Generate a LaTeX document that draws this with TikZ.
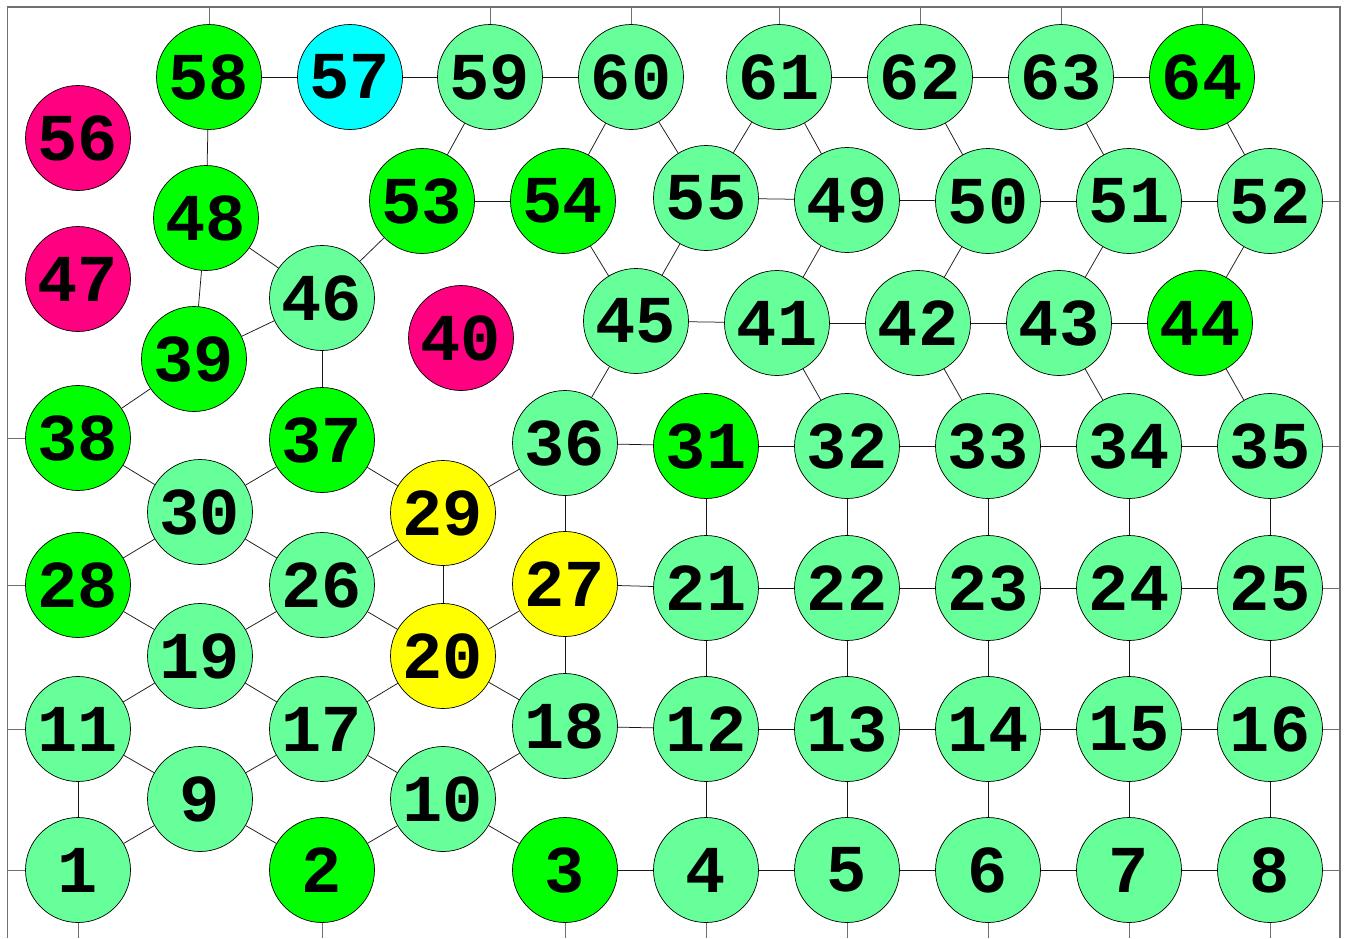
\documentclass[tikz,border=0pt]{standalone}
\usepackage{fontspec}
\newfontfamily\nodefont{Liberation Mono}
\newcommand\lbl[1]{\raisebox{-2pt}{#1}}
\definecolor{lgreen}{HTML}{66FF99}
\definecolor{bgreen}{HTML}{00FF00}
\definecolor{magen}{HTML}{FF0080}
\definecolor{cyanc}{HTML}{00FFFF}
\definecolor{yell}{HTML}{FFFF00}
\definecolor{bordergray}{HTML}{707070}
\tikzset{
  vtx/.style={circle,draw=black,line width=0.7pt,minimum size=105pt,inner sep=0pt,
    font=\nodefont\bfseries\fontsize{67}{67}\selectfont},
  lg/.style={vtx,fill=lgreen},
  bg/.style={vtx,fill=bgreen},
  mg/.style={vtx,fill=magen},
  cy/.style={vtx,fill=cyanc},
  ye/.style={vtx,fill=yell},
  edge/.style={draw=black!90,line width=0.75pt},
  wrap/.style={draw=bordergray,line width=0.8pt},
  frame/.style={draw=bordergray,line width=1.2pt}
}
\begin{document}
\begin{tikzpicture}[x=1pt,y=-1pt]
\useasboundingbox (0,0) rectangle (1347,938);
\draw[frame] (7.5,938) -- (7.5,7) -- (1340,7) -- (1340,938);
% nodes
\node[lg] (n1) at (78,870) {\lbl{1}};
\node[bg] (n2) at (322,870) {\lbl{2}};
\node[bg] (n3) at (565,870) {\lbl{3}};
\node[lg] (n4) at (706,870) {\lbl{4}};
\node[lg] (n5) at (847,870) {\lbl{5}};
\node[lg] (n6) at (988,870) {\lbl{6}};
\node[lg] (n7) at (1129,870) {\lbl{7}};
\node[lg] (n8) at (1270,870) {\lbl{8}};
\node[lg] (n9) at (200,799) {\lbl{9}};
\node[lg] (n10) at (443,799) {\lbl{10}};
\node[lg] (n11) at (78,729) {\lbl{11}};
\node[lg] (n17) at (322,729) {\lbl{17}};
\node[lg] (n18) at (565,726) {\lbl{18}};
\node[lg] (n12) at (706,729) {\lbl{12}};
\node[lg] (n13) at (847,729) {\lbl{13}};
\node[lg] (n14) at (988,729) {\lbl{14}};
\node[lg] (n15) at (1129,729) {\lbl{15}};
\node[lg] (n16) at (1270,729) {\lbl{16}};
\node[lg] (n19) at (200,656) {\lbl{19}};
\node[ye] (n20) at (443,656) {\lbl{20}};
\node[bg] (n28) at (78,585) {\lbl{28}};
\node[lg] (n26) at (322,585) {\lbl{26}};
\node[ye] (n27) at (565,584) {\lbl{27}};
\node[lg] (n21) at (706,588) {\lbl{21}};
\node[lg] (n22) at (847,588) {\lbl{22}};
\node[lg] (n23) at (988,588) {\lbl{23}};
\node[lg] (n24) at (1129,588) {\lbl{24}};
\node[lg] (n25) at (1270,588) {\lbl{25}};
\node[lg] (n30) at (200,512) {\lbl{30}};
\node[ye] (n29) at (443,513) {\lbl{29}};
\node[bg] (n38) at (78,438) {\lbl{38}};
\node[bg] (n37) at (322,440) {\lbl{37}};
\node[lg] (n36) at (565,443) {\lbl{36}};
\node[bg] (n31) at (706,446) {\lbl{31}};
\node[lg] (n32) at (847,446) {\lbl{32}};
\node[lg] (n33) at (988,446) {\lbl{33}};
\node[lg] (n34) at (1129,446) {\lbl{34}};
\node[lg] (n35) at (1270,446) {\lbl{35}};
\node[bg] (n39) at (194,359) {\lbl{39}};
\node[mg] (n40) at (461,338) {\lbl{40}};
\node[lg] (n46) at (322,298) {\lbl{46}};
\node[lg] (n45) at (636,321) {\lbl{45}};
\node[lg] (n41) at (777,323) {\lbl{41}};
\node[lg] (n42) at (918,323) {\lbl{42}};
\node[lg] (n43) at (1059,323) {\lbl{43}};
\node[bg] (n44) at (1200,323) {\lbl{44}};
\node[mg] (n47) at (78,279) {\lbl{47}};
\node[bg] (n48) at (206,218) {\lbl{48}};
\node[bg] (n53) at (422,201) {\lbl{53}};
\node[bg] (n54) at (563,201) {\lbl{54}};
\node[lg] (n55) at (706,198) {\lbl{55}};
\node[lg] (n49) at (847,200) {\lbl{49}};
\node[lg] (n50) at (988,201) {\lbl{50}};
\node[lg] (n51) at (1129,201) {\lbl{51}};
\node[lg] (n52) at (1270,201) {\lbl{52}};
\node[mg] (n56) at (78,138) {\lbl{56}};
\node[bg] (n58) at (209,77) {\lbl{58}};
\node[cy] (n57) at (350,77) {\lbl{57}};
\node[lg] (n59) at (490,77) {\lbl{59}};
\node[lg] (n60) at (631,77) {\lbl{60}};
\node[lg] (n61) at (779,77) {\lbl{61}};
\node[lg] (n62) at (920,77) {\lbl{62}};
\node[lg] (n63) at (1061,77) {\lbl{63}};
\node[bg] (n64) at (1202,77) {\lbl{64}};
% border coordinates
\coordinate (t58) at (209,7);
\coordinate (t59) at (490,7);
\coordinate (t60) at (631,7);
\coordinate (t61) at (779,7);
\coordinate (t62) at (920,7);
\coordinate (t63) at (1061,7);
\coordinate (t64) at (1202,7);
\coordinate (l38) at (7.5,438);
\coordinate (l28) at (7.5,585);
\coordinate (l11) at (7.5,729);
\coordinate (l1) at (7.5,870);
\coordinate (r52) at (1340,201);
\coordinate (r35) at (1340,446);
\coordinate (r25) at (1340,588);
\coordinate (r16) at (1340,729);
\coordinate (r8) at (1340,870);
\coordinate (b1) at (78,938);
\coordinate (b2) at (322,938);
\coordinate (b3) at (565,938);
\coordinate (b4) at (706,938);
\coordinate (b5) at (847,938);
\coordinate (b6) at (988,938);
\coordinate (b7) at (1129,938);
\coordinate (b8) at (1270,938);
\foreach \a/\b in {58/t58,59/t59,60/t60,61/t61,62/t62,63/t63,64/t64,
  38/l38,28/l28,11/l11,1/l1,52/r52,35/r35,25/r25,16/r16,8/r8,
  1/b1,2/b2,3/b3,4/b4,5/b5,6/b6,7/b7,8/b8}
  \path[wrap] (n\a) -- (\b);
\foreach \a/\b in {1/11,1/9,9/11,9/2,9/17,2/10,10/17,10/3,10/18,11/19,17/19,17/20,
  19/28,19/26,20/26,20/18,20/29,20/27,26/30,26/29,28/30,30/38,30/37,29/37,29/36,
  27/36,27/18,27/21,18/12,3/4,4/5,5/6,6/7,7/8,4/12,5/13,6/14,7/15,8/16,
  12/13,13/14,14/15,15/16,12/21,13/22,14/23,15/24,16/25,
  21/22,22/23,23/24,24/25,21/31,22/32,23/33,24/34,25/35,
  31/36,31/32,32/33,33/34,34/35,32/41,33/42,34/43,35/44,
  36/45,45/41,41/42,42/43,43/44,45/54,45/55,41/49,42/50,43/51,44/52,
  55/49,49/50,50/51,51/52,55/60,55/61,49/61,50/62,51/63,52/64,
  54/60,53/54,53/59,53/46,46/48,46/39,46/37,48/39,48/58,39/38,
  58/57,57/59,59/60,61/62,62/63,63/64}
  \path[edge] (n\a) -- (n\b);
\end{tikzpicture}
\end{document}
